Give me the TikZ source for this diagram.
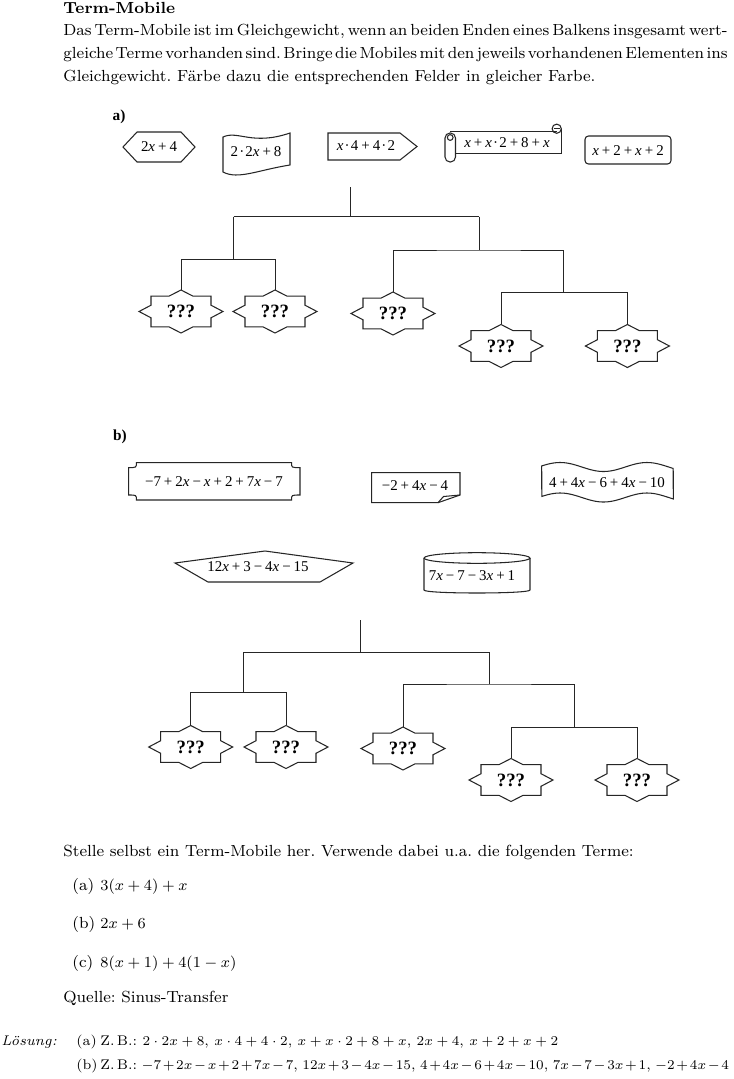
\documentclass[tikz,border=0pt]{standalone}
\usepackage{fontspec}
\newfontfamily\tf{Liberation Serif}
\usetikzlibrary{calc}
\frenchspacing
\newcommand\tx{\textit{x}}
\newcommand\tplus{\kern.2em+\kern.2em}
\newcommand\tminus{\kern.2em−\kern.2em}
\newcommand\tdot{\kern.08em·\kern.08em}
\newcommand\bodyfont{\fontsize{8.4}{10}\selectfont}
\newcommand\solfont{\fontsize{7.3}{9}\selectfont}
\newcommand\jline[1]{\makebox[346.5pt][s]{\spaceskip=0.3em plus 0.3em minus 0.18em #1}}
\newcommand\starout[1]{\draw[shapeline,shift={(#1.center)}] (0,-21.5) -- (12.1,-15.3) -- (30,-15.3) -- (30,-6.3) -- (42,0) -- (30,6.3) -- (30,15.3) -- (12.1,15.3) -- (0,21.5) -- (-12.1,15.3) -- (-30,15.3) -- (-30,6.3) -- (-42,0) -- (-30,-6.3) -- (-30,-15.3) -- (-12.1,-15.3) -- cycle;}
\tikzset{
  tn/.style={inner sep=0pt, anchor=base west, font=\bodyfont},
  sn/.style={inner sep=0pt, anchor=base west, font=\solfont},
  term/.style={inner sep=0pt, font=\fontsize{7.8}{9}\selectfont\tf},
  starnode/.style={inner sep=0pt, minimum width=43.8pt, minimum height=22.4pt, font=\fontsize{9.8}{11}\selectfont\tf\bfseries},
  shapeline/.style={draw=black!85, line width=0.55pt},
  beam/.style={draw=black!85, line width=0.5pt},
  lab/.style={inner sep=0pt, font=\fontsize{8}{9}\selectfont\tf\bfseries}
}
\begin{document}
\begin{tikzpicture}[x=0.5217pt, y=-0.5217pt]
\fill[white] (0,0) rectangle (733,1079);
\useasboundingbox (0,0) rectangle (733,1079);

% header
\node[tn] (title) at (63,13) {\textbf{Term-Mobile}};
\node[tn] (l1) at (63,35) {\jline{Das Term-Mobile ist im Gleichgewicht, wenn an beiden Enden eines Balkens insgesamt wert-}};
\node[tn] (l2) at (63,58) {\jline{gleiche Terme vorhanden sind. Bringe die Mobiles mit den jeweils vorhandenen Elementen ins}};
\node[tn] (l3) at (63,81) {Gleichgewicht. Färbe dazu die entsprechenden Felder in gleicher Farbe.};

% ---------- a) ----------
\node[lab] (la) at (119,117) {a)};
% hexagon
\draw[shapeline] (123,147) -- (137,132) -- (181,132) -- (195,147) -- (181,162) -- (137,162) -- cycle;
\node[term] (ta1) at (159,147) {2\tx\tplus4};
% flag
\draw[shapeline] (223,137) .. controls (238,130) and (252,146) .. (290,133) -- (290,165) .. controls (258,170) and (238,180) .. (223,172) -- cycle;
\node[term] (ta2) at (256,152) {2\tdot2\tx\tplus8};
% arrow
\draw[shapeline] (328,133) -- (400,133) -- (417,146.5) -- (400,160) -- (328,160) -- cycle;
\node[term] (ta3) at (366,145.5) {\tx\tdot4\tplus4\tdot2};
% scroll
\draw[shapeline] (455,153.3) -- (561.7,153.3) -- (561.7,128.7);
\draw[shapeline] (450,131.7) -- (556.7,131.7);
\draw[shapeline] (556.7,128.7) circle[radius=2.4pt];
\draw[shapeline] (553.5,128.7) -- (559.9,128.7);
\draw[shapeline, rounded corners=2.6pt] (445,133) rectangle (455.5,162);
\draw[shapeline] (450.2,137.5) circle[radius=1.5pt];
\node[term] (ta4) at (507,143) {\tx\tplus\tx\tdot2\tplus8\tplus\tx};
% rounded rect
\draw[shapeline, rounded corners=1.8pt] (585,136) rectangle (671,164);
\node[term] (ta5) at (628,151) {\tx\tplus2\tplus\tx\tplus2};

% mobile a
\node[starnode] (a1) at (181,311.5) {???};
\node[starnode] (a2) at (275,311.5) {???};
\node[starnode] (a3) at (393,313.5) {???};
\node[starnode] (a4) at (501,346) {???};
\node[starnode] (a5) at (627.4,346) {???};
\foreach \n in {a1,a2,a3,a4,a5} {\starout{\n}}
\coordinate (aS) at (350.3,187);
\coordinate (aM) at (350.3,216.7);
\coordinate (aBL) at (233.5,216.7);
\coordinate (aBR) at (479,216.7);
\coordinate (aLm) at (233.5,259.5);
\coordinate (aRm) at (479,250);
\coordinate (aRR) at (563.2,250);
\coordinate (aRRb) at (563.2,292.7);
\draw[beam] (aS) -- (aM);
\draw[beam] (aBL) -- (aBR);
\draw[beam] (aBL) -- (aLm);
\draw[beam] (a1.north) |- (aLm) -| (a2.north);
\draw[beam] (aBR) -- (aRm);
\draw[beam] (a3.north) |- (aRm) -- (aRR) -- (aRRb);
\draw[beam] (a4.north) |- (aRRb) -| (a5.north);

% ---------- b) ----------
\node[lab] (lb) at (120,437) {b)};
% notched rectangle
\draw[shapeline] (136.4,462.6) -- (291.5,462.6) .. controls (291.5,467.6) .. (300,467.6) -- (300,495) .. controls (291.5,495) .. (291.5,500) -- (136.4,500) .. controls (136.4,495) .. (128.7,495) -- (128.7,467.6) .. controls (136.4,467.6) .. (136.4,462.6) -- cycle;
\node[term] (tb1) at (214,482) {−7\tplus2\tx\tminus\tx\tplus2\tplus7\tx\tminus7};
% folded note
\draw[shapeline] (371.7,472.7) -- (460,472.7) -- (460,495) -- (438,502.7) -- (371.7,502.7) -- cycle;
\draw[shapeline] (438,502.7) .. controls (441,499) .. (443.5,496.5) -- (460,495);
\node[term] (tb2) at (415,486) {−2\tplus4\tx\tminus4};
% wavy banner
\draw[shapeline] plot[domain=0:1, samples=60, variable=\t] ({541.7+131.6*\t},{467-4.5*cos(360*(\t-0.14)/0.66)}) -- plot[domain=1:0, samples=60, variable=\t] ({541.7+131.6*\t},{497.5-4.5*cos(360*(\t-0.14)/0.66)}) -- cycle;
\node[term] (tb3) at (607,483) {4\tplus4\tx\tminus6\tplus4\tx\tminus10};
% pentagon
\draw[shapeline] (175,563) -- (265,551) -- (353,563) -- (320,582) -- (208,582) -- cycle;
\node[term] (tb4) at (258,566.5) {12\tx\tplus3\tminus4\tx\tminus15};
% cylinder
\draw[shapeline] (424,558) -- (424,590) .. controls (424,594) and (530,594) .. (530,590) -- (530,558);
\draw[shapeline] (477,558) ellipse[x radius=27.65pt, y radius=2.77pt];
\node[term] (tb5) at (472,576) {7\tx\tminus7\tminus3\tx\tplus1};

% mobile b
\node[starnode] (b1) at (190.7,747) {???};
\node[starnode] (b2) at (286,747) {???};
\node[starnode] (b3) at (403,748.5) {???};
\node[starnode] (b4) at (511,780) {???};
\node[starnode] (b5) at (637,780) {???};
\foreach \n in {b1,b2,b3,b4,b5} {\starout{\n}}
\coordinate (bS) at (360,620);
\coordinate (bM) at (360,652);
\coordinate (bBL) at (243.5,652);
\coordinate (bBR) at (489,652);
\coordinate (bLm) at (243.5,692.7);
\coordinate (bRm) at (489,684);
\coordinate (bRR) at (574.5,684);
\coordinate (bRRb) at (574.5,727);
\draw[beam] (bS) -- (bM);
\draw[beam] (bBL) -- (bBR);
\draw[beam] (bBL) -- (bLm);
\draw[beam] (b1.north) |- (bLm) -| (b2.north);
\draw[beam] (bBR) -- (bRm);
\draw[beam] (b3.north) |- (bRm) -- (bRR) -- (bRRb);
\draw[beam] (b4.north) |- (bRRb) -| (b5.north);

% ---------- bottom text ----------
\node[tn] (st) at (63,856) {Stelle selbst ein Term-Mobile her. Verwende dabei u.a. die folgenden Terme:};
\node[tn] (ia) at (72,890) {(a)};
\node[tn] (fa) at (100,890) {$3(x+4)+x$};
\node[tn] (ib) at (72,928.5) {(b)};
\node[tn] (fb) at (100,928.5) {$2x+6$};
\node[tn] (ic) at (72,967) {(c)};
\node[tn] (fc) at (100,967) {$8(x+1)+4(1-x)$};
\node[tn] (src) at (63,1002) {Quelle: Sinus-Transfer};
\node[sn] (los) at (1,1045) {\textit{Lösung:}};
\node[sn] (la2) at (76,1045) {(a)};
\node[sn] (sa) at (100,1045) {Z.\,B.: $2\cdot 2x+8$, $x\cdot 4+4\cdot 2$, $x+x\cdot 2+8+x$, $2x+4$, $x+2+x+2$};
\node[sn] (lb2) at (76,1069) {(b)};
\node[sn] (sb) at (100,1069) {\hbox to 328pt{Z.\,B.: $-7+2x-x+2+7x-7$, $12x+3-4x-15$, $4+4x-6+4x-10$, $7x-7-3x+1$, $-2+4x-4$}};
\end{tikzpicture}
\end{document}
